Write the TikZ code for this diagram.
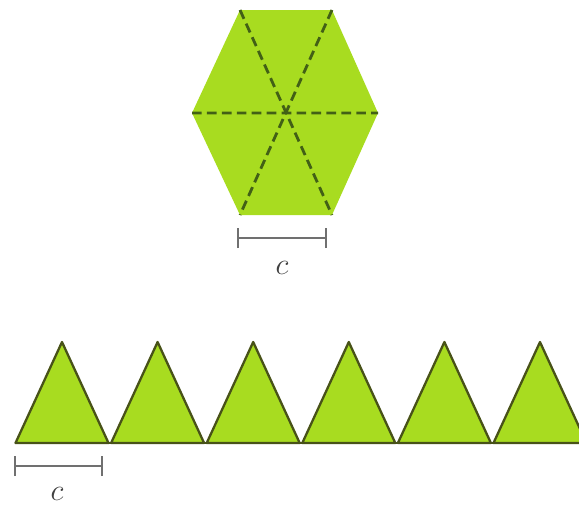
\documentclass[tikz,border=0pt]{standalone}
\usetikzlibrary{positioning}
\definecolor{lime}{RGB}{168,220,32}
\definecolor{olive}{RGB}{72,82,24}
\definecolor{dashc}{RGB}{66,96,22}
\definecolor{barc}{RGB}{112,112,112}
\tikzset{
  face/.style={fill=lime,draw=none},
  tri/.style={fill=lime,draw=olive,line width=1.3pt,line join=round},
  diag/.style={draw=dashc,line width=1.6pt,dash pattern=on 5.5pt off 3pt},
  bar/.style={draw=barc,line width=1.6pt},
  lbl/.style={font=\LARGE,text=black!75,inner sep=0pt},
}

\begin{document}
\begin{tikzpicture}[x=0.02cm,y=-0.02cm]
    \useasboundingbox (0,0) rectangle (579,508);
    \clip (0,0) rectangle (579,508);

    % Hexagon corners
    \coordinate (tl) at (240,10);
    \coordinate (tr) at (332,10);
    \coordinate (r)  at (378,113);
    \coordinate (br) at (332,215);
    \coordinate (bl) at (240,215);
    \coordinate (l)  at (192,113);
    \fill[face] (tl)--(tr)--(r)--(br)--(bl)--(l)--cycle;
    \draw[diag] (tl)--(br) (tr)--(bl) (l)--(r);

    % Scale bar under hexagon
    \coordinate (ha) at (238,238);
    \coordinate (hb) at (326,238);
    \draw[bar] (ha)--(hb) ([yshift=-0.2cm]ha)--([yshift=0.2cm]ha)
      ([yshift=-0.2cm]hb)--([yshift=0.2cm]hb);
    \node[lbl] (hc) at (282,268) {$c$};

    % Row of triangles
    \foreach \i in {0,...,5}{
      \pgfmathsetmacro{\cx}{62+95.6*\i}
      \draw[tri] (\cx-46.5,443)--(\cx,342)--(\cx+46.5,443)--cycle;
    }
    \draw[tri] (15,443)--(590,443);

    % Scale bar under first triangle
    \coordinate (ta) at (15,466);
    \coordinate (tb) at (102,466);
    \draw[bar] (ta)--(tb) ([yshift=-0.2cm]ta)--([yshift=0.2cm]ta)
      ([yshift=-0.2cm]tb)--([yshift=0.2cm]tb);
    \node[lbl] (tc) at (57,494) {$c$};
  \end{tikzpicture}
\end{document}
